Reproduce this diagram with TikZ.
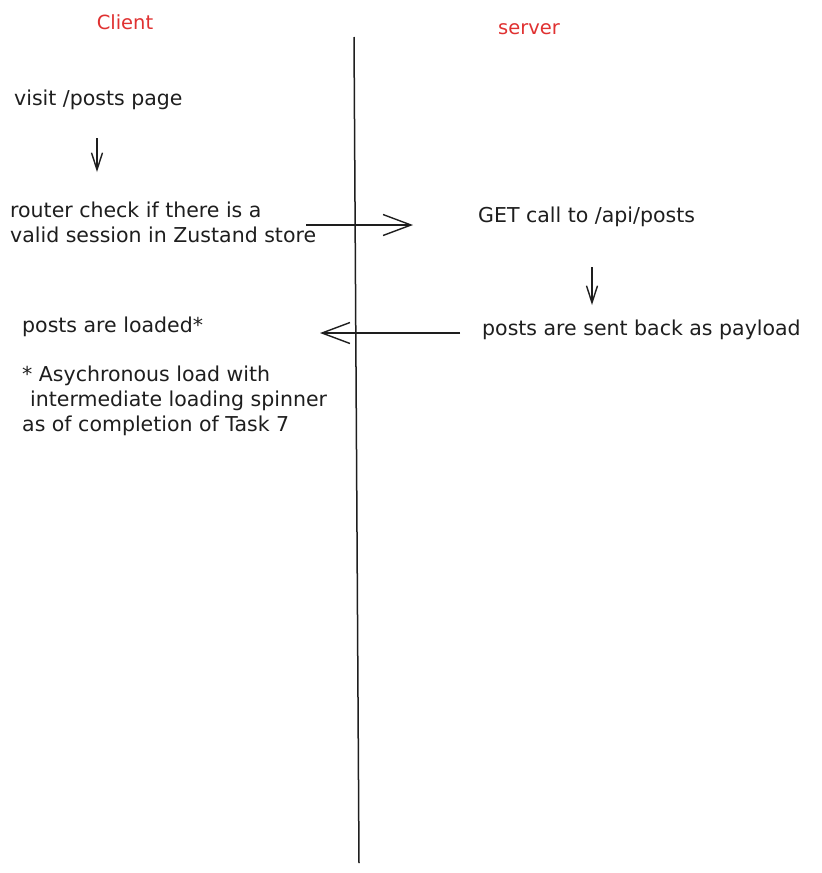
\documentclass[tikz,border=0pt]{standalone}
\usepackage{fontspec}
\setmainfont{DejaVu Sans}
\usetikzlibrary{arrows.meta}
\definecolor{ink}{HTML}{1E1E1E}
\definecolor{lanered}{HTML}{E03131}
\tikzset{
  lbl/.style={font=\fontsize{20.5}{25}\selectfont, text=ink, inner sep=0pt, align=left},
  lanelbl/.style={font=\fontsize{19.5}{22}\selectfont, text=lanered, inner sep=0pt},
  flow/.style={draw=ink, line width=1.4pt, -{Straight Barb[length=28pt,width=21pt,line width=1.4pt]}},
  stepflow/.style={draw=ink, line width=1.4pt, -{Straight Barb[length=17pt,width=11pt,line width=1.4pt]}},
  divider/.style={draw=ink, line width=1.5pt}
}
\begin{document}
\begin{tikzpicture}[x=1pt,y=-1pt]
\useasboundingbox (0,0) rectangle (822,873);
\fill[white] (0,0) rectangle (822,873);

% lane titles
\node[lanelbl] (client) at (125,22) {Client};
\node[lanelbl] (server) at (529,29) {server};

% lane divider
\coordinate (divtop) at (354,37);
\coordinate (divbot) at (359,863);
\draw[divider] (divtop) -- (divbot);

% client side steps
\node[lbl, anchor=west] (visit) at (14,100) {visit /posts page};
\node[lbl, anchor=west] (router) at (10,222.5) {router check if there is a\\valid session in Zustand store};
\node[lbl, anchor=west] (loaded) at (22,327) {posts are loaded*};
\node[lbl, anchor=north west] (note) at (22,366) {* Asychronous load with\\\hspace*{8pt}intermediate loading spinner\\as of completion of Task 7};

% server side steps
\node[lbl, anchor=west] (get) at (478,217) {GET call to /api/posts};
\node[lbl, anchor=west] (payload) at (482,330) {posts are sent back as payload};

% flow arrows
\coordinate (a1s) at (97,138);
\coordinate (a1e) at (97,172);
\draw[stepflow] (a1s) -- (a1e);

\coordinate (reqs) at (306,225);
\coordinate (reqe) at (413,225);
\draw[flow] (reqs) -- (reqe);

\coordinate (a2s) at (592,267);
\coordinate (a2e) at (592,305);
\draw[stepflow] (a2s) -- (a2e);

\coordinate (rets) at (460,333);
\coordinate (rete) at (320,333);
\draw[flow] (rets) -- (rete);
\end{tikzpicture}
\end{document}
